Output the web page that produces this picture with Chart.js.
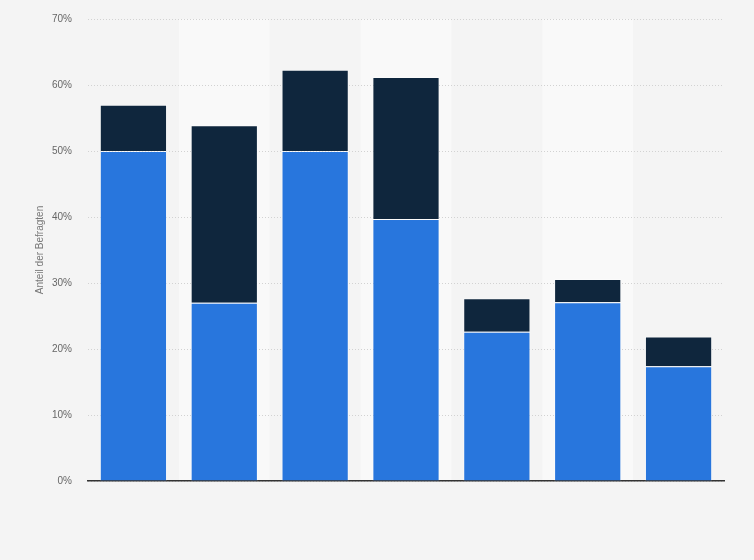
<!DOCTYPE html>
<html>
<head>
<meta charset="utf-8">
<script src="https://cdn.jsdelivr.net/npm/chart.js@4"></script>
<style>
html,body{margin:0;padding:0;background:#f4f4f4;}
#wrap{width:754px;height:560px;position:relative;}
</style>
</head>
<body>
<div id="wrap"><canvas id="c" width="754" height="560"></canvas></div>
<script>
const categories = ["1","2","3","4","5","6","7"];
const seriesA = [50.0, 27.0, 50.0, 39.7, 22.6, 27.1, 17.4];
const seriesB = [7.0, 26.9, 12.3, 21.5, 5.1, 3.5, 4.5];
const yTicks = [0,10,20,30,40,50,60,70];

const bandPlugin = {
  id:'bands',
  beforeDraw(chart){
    const {ctx, chartArea, scales:{x}} = chart;
    ctx.save();
    ctx.fillStyle = '#f4f4f4';
    ctx.fillRect(0,0,chart.width,chart.height);
    const w = x.width / categories.length;
    ctx.fillStyle = '#f9f9f9';
    for(let i=1;i<categories.length;i+=2){
      const cx = x.getPixelForValue(i);
      ctx.fillRect(cx - w/2, chartArea.top, w, chartArea.bottom - chartArea.top);
    }
    ctx.restore();
  }
};

new Chart(document.getElementById('c'), {
  type:'bar',
  data:{
    labels:categories,
    datasets:[
      {label:'A', data:seriesA, backgroundColor:'#2876dd', borderColor:'rgba(255,255,255,0.45)', borderWidth:1, barPercentage:0.74, categoryPercentage:1},
      {label:'B', data:seriesB, backgroundColor:'#0f263d', borderColor:'rgba(255,255,255,0.35)', borderWidth:1, barPercentage:0.74, categoryPercentage:1}
    ]
  },
  options:{
    responsive:false,
    animation:false,
    layout:{padding:{top:19,right:30,left:34,bottom:0}},
    plugins:{legend:{display:false}, tooltip:{enabled:false}},
    scales:{
      x:{
        stacked:true,
        grid:{display:false, drawTicks:false},
        border:{display:true, color:'#333', width:1.5},
        ticks:{display:false},
        afterFit(s){ s.height = 79; s.paddingLeft = 0; s.paddingRight = 0; }
      },
      y:{
        stacked:true,
        min:0, max:70,
        afterBuildTicks(s){ s.ticks = yTicks.map(v=>({value:v})); },
        ticks:{
          callback:v=>v+'%',
          color:'#666',
          font:{family:'Liberation Sans, Arial, sans-serif', size:10},
          padding:16
        },
        grid:{color:'#d2d2d2', drawTicks:false, lineWidth:1},
        border:{display:false, dash:[1,2]},
        title:{display:true, text:'Anteil der Befragten', color:'#777', font:{family:'Liberation Sans, Arial, sans-serif', size:10}, padding:{top:0,bottom:0}},
        afterFit(s){ s.width = 54; s.paddingTop = 0; s.paddingBottom = 0; }
      }
    }
  },
  plugins:[bandPlugin]
});
</script>
</body>
</html>
